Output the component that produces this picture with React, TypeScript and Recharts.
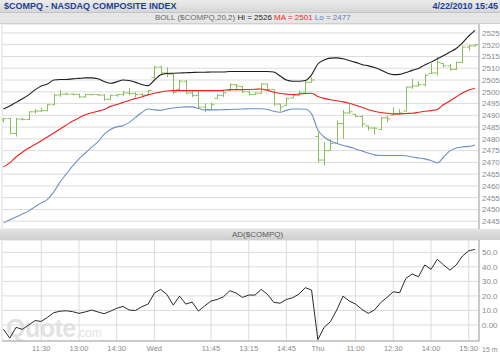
import { Bar, CartesianGrid, ComposedChart, Line, XAxis, YAxis } from 'recharts';

// 15 minute bars, Tue 10:00 -> Thu 15:45
const timeTicks = [6, 12, 18, 24, 33, 39, 45, 50, 56, 62, 68, 74];
const timeLabels = ['11:30', '13:00', '14:30', 'Wed', '11:45', '13:15', '14:45', 'Thu', '11:00', '12:30', '14:00', '15:30'];

const priceTicks = [2445, 2450, 2455, 2460, 2465, 2470, 2475, 2480, 2485, 2490, 2495, 2500, 2505, 2510, 2515, 2520, 2525];
const adTicks = [0, 10, 20, 30, 40, 50];

const opens = [
	2488.0, 2488.6, 2482.3, 2488.4, 2488.2, 2491.5, 2491.8, 2492.0, 2494.5, 2498.6,
	2499.0, 2499.0, 2498.9, 2497.8, 2498.8, 2498.8, 2498.6, 2496.8, 2498.5, 2498.8,
	2499.5, 2499.2, 2498.8, 2498.6, 2506.0, 2510.5, 2508.0, 2507.5, 2501.0, 2504.5,
	2499.5, 2498.5, 2493.5, 2492.5, 2497.2, 2498.5, 2500.6, 2503.0, 2502.2, 2500.0,
	2498.8, 2499.4, 2503.3, 2501.0, 2494.8, 2494.2, 2497.4, 2498.5, 2499.5, 2504.0,
	2481.0, 2471.0, 2475.0, 2478.0, 2486.5, 2491.0, 2490.5, 2489.5, 2485.5, 2484.6,
	2484.0, 2489.0, 2490.0, 2490.5, 2491.8, 2502.0, 2502.5, 2503.0, 2507.8, 2508.0,
	2512.0, 2511.0, 2509.5, 2512.5, 2519.0, 2519.5,
];
const highs = [
	2489.0, 2488.9, 2488.9, 2488.9, 2491.7, 2492.7, 2493.1, 2494.8, 2499.1, 2500.8,
	2499.5, 2499.3, 2499.1, 2499.1, 2499.0, 2499.0, 2499.0, 2498.8, 2499.1, 2500.5,
	2501.6, 2499.8, 2499.4, 2500.8, 2511.1, 2511.1, 2510.4, 2507.6, 2505.0, 2505.0,
	2500.5, 2500.5, 2495.1, 2495.5, 2499.1, 2500.5, 2503.6, 2503.3, 2502.5, 2500.5,
	2499.8, 2503.6, 2503.4, 2501.0, 2494.9, 2497.4, 2499.1, 2500.5, 2504.8, 2506.2,
	2482.8, 2478.6, 2480.0, 2487.8, 2492.3, 2494.8, 2490.6, 2490.0, 2485.6, 2484.9,
	2489.2, 2489.9, 2493.4, 2492.7, 2502.2, 2505.5, 2504.5, 2507.6, 2512.1, 2514.7,
	2512.1, 2511.8, 2512.8, 2519.6, 2520.0, 2520.3,
];
const lows = [
	2487.0, 2482.1, 2481.0, 2487.8, 2488.0, 2490.7, 2491.5, 2491.7, 2494.3, 2497.8,
	2498.5, 2498.6, 2497.3, 2497.6, 2498.5, 2498.3, 2496.2, 2496.7, 2497.8, 2498.3,
	2498.4, 2497.7, 2497.7, 2498.4, 2505.5, 2507.6, 2506.2, 2499.1, 2500.5, 2499.1,
	2497.7, 2492.7, 2491.3, 2492.4, 2497.0, 2497.7, 2500.5, 2501.2, 2499.5, 2498.4,
	2498.7, 2499.3, 2500.5, 2494.1, 2491.7, 2494.1, 2497.4, 2498.4, 2499.4, 2504.0,
	2470.1, 2468.7, 2475.0, 2478.0, 2480.0, 2490.6, 2489.2, 2484.9, 2483.5, 2481.8,
	2483.8, 2487.0, 2489.9, 2490.3, 2491.7, 2501.2, 2502.2, 2502.2, 2507.6, 2506.9,
	2510.4, 2509.0, 2509.3, 2512.1, 2517.5, 2519.2,
];
const closes = [
	2488.6, 2482.3, 2488.4, 2488.2, 2491.5, 2491.8, 2492.0, 2494.5, 2498.6, 2499.0,
	2499.0, 2498.9, 2497.8, 2498.8, 2498.8, 2498.6, 2496.8, 2498.5, 2498.8, 2499.5,
	2499.2, 2498.8, 2498.6, 2500.5, 2510.5, 2508.0, 2507.5, 2499.8, 2504.5, 2499.5,
	2498.5, 2493.5, 2492.5, 2494.5, 2498.5, 2499.5, 2503.0, 2502.5, 2500.0, 2498.8,
	2499.4, 2503.3, 2501.0, 2494.8, 2493.5, 2497.2, 2498.5, 2499.5, 2504.0, 2505.0,
	2471.0, 2475.0, 2478.0, 2486.5, 2491.0, 2491.5, 2489.5, 2486.3, 2484.6, 2484.5,
	2489.0, 2488.5, 2490.5, 2491.0, 2502.0, 2502.5, 2503.0, 2507.0, 2508.0, 2512.5,
	2511.0, 2509.5, 2512.5, 2519.0, 2519.5, 2520.0,
];

const upperBand = [
	2492.7, 2494.0, 2495.5, 2497.0, 2498.7, 2500.8, 2502.5, 2503.3, 2505.0, 2505.2,
	2505.2, 2505.5, 2505.7, 2505.9, 2505.9, 2505.5, 2504.4, 2503.6, 2504.2, 2505.0,
	2504.8, 2504.0, 2503.1, 2502.6, 2505.0, 2507.2, 2507.8, 2507.9, 2508.0, 2508.1,
	2508.2, 2508.3, 2508.3, 2508.4, 2508.4, 2508.4, 2508.6, 2508.6, 2508.6, 2508.6,
	2508.6, 2508.6, 2508.6, 2508.4, 2506.7, 2505.0, 2504.5, 2504.5, 2504.8, 2507.2,
	2511.8, 2513.5, 2514.3, 2514.4, 2514.0, 2513.3, 2512.5, 2511.6, 2511.0, 2510.3,
	2509.3, 2508.0, 2507.3, 2507.4, 2508.2, 2509.1, 2509.9, 2511.4, 2512.6, 2514.0,
	2515.4, 2516.9, 2518.4, 2520.8, 2523.7, 2526.1,
];
const movingAvg = [
	2468.1, 2469.8, 2472.3, 2474.3, 2476.1, 2477.6, 2479.2, 2480.8, 2482.5, 2484.2,
	2485.9, 2487.6, 2488.9, 2490.2, 2491.1, 2491.7, 2492.5, 2493.8, 2494.6, 2495.5,
	2496.3, 2497.2, 2497.8, 2498.7, 2499.4, 2499.9, 2500.3, 2500.5, 2500.5, 2500.5,
	2500.5, 2500.5, 2500.5, 2500.5, 2500.5, 2500.6, 2500.9, 2500.9, 2500.9, 2501.0,
	2501.1, 2501.2, 2500.6, 2499.8, 2499.3, 2499.0, 2498.8, 2499.0, 2499.3, 2499.4,
	2498.0, 2497.2, 2496.6, 2496.2, 2495.7, 2495.1, 2494.3, 2493.4, 2492.4, 2491.7,
	2491.2, 2490.9, 2490.6, 2490.6, 2490.8, 2490.9, 2491.3, 2491.7, 2492.0, 2492.5,
	2494.6, 2496.1, 2497.8, 2499.5, 2500.8, 2501.4,
];
const lowerBand = [
	2444.3, 2445.6, 2446.8, 2448.1, 2449.4, 2451.1, 2452.8, 2454.3, 2457.5, 2461.7,
	2465.1, 2468.5, 2471.5, 2474.0, 2476.4, 2478.7, 2481.9, 2484.0, 2485.1, 2485.6,
	2487.0, 2489.1, 2491.2, 2492.7, 2492.3, 2492.1, 2492.7, 2493.1, 2493.4, 2493.6,
	2493.6, 2492.9, 2492.3, 2492.3, 2492.3, 2492.4, 2492.5, 2492.6, 2492.7, 2492.8,
	2492.8, 2492.8, 2492.5, 2491.7, 2491.3, 2492.1, 2492.7, 2492.7, 2492.6, 2490.6,
	2483.8, 2480.8, 2479.1, 2478.1, 2477.2, 2476.6, 2475.7, 2474.9, 2474.0, 2473.2,
	2472.9, 2472.9, 2472.9, 2472.9, 2472.8, 2472.3, 2471.9, 2471.5, 2470.8, 2469.8,
	2472.3, 2474.9, 2476.1, 2476.6, 2476.8, 2477.4,
];

const adLine = [
	-3, -9, -1.6, -3, 0, 3, 2.5, 5.3, 8.5, 9.5,
	9.8, 9.2, 8, 9, 10.3, 9, 7.8, 9.5, 11.5, 12.8,
	10.3, 10, 12.6, 14.4, 22, 24.5, 21, 13.7, 19.9, 14.4,
	15.8, 9.6, 13.1, 16.5, 17.6, 19.5, 23.6, 22, 19, 20.6,
	20.6, 24.5, 21, 15.6, 15, 17.6, 18.8, 21.3, 25.7, 24,
	-10, -1.6, 2.3, 10.3, 19.9, 16.5, 14.4, 10.8, 8, 10.3,
	15.4, 19, 22.9, 22.2, 32.1, 35.1, 33.2, 41.3, 38.3, 45.2,
	41.3, 37.8, 41.3, 47.5, 51.1, 52,
];

const rows = closes.map((c, i) => ({
	i,
	o: opens[i],
	h: highs[i],
	l: lows[i],
	c,
	up: upperBand[i],
	ma: movingAvg[i],
	lo: lowerBand[i],
	ad: adLine[i],
}));

const FONT = '"Liberation Sans", Arial, sans-serif';
const GREEN = '#8cbf5c';
const xDomain = [-0.24, 75.63];

function OhlcShape(props: any) {
	const { x, y, width, height, payload } = props;
	const top = Math.min(y, y + height);
	const h = Math.abs(height);
	const span = payload.h - payload.l || 1;
	const toY = (v: number) => top + ((payload.h - v) / span) * h;
	const cx = Math.round(x + width / 2) + 0.5;
	return (
		<g stroke={GREEN} strokeWidth={1}>
			<line x1={cx} x2={cx} y1={top} y2={top + h} />
			<line x1={cx - 3} x2={cx} y1={toY(payload.o)} y2={toY(payload.o)} />
			<line x1={cx} x2={cx + 3} y1={toY(payload.c)} y2={toY(payload.c)} />
		</g>
	);
}

const axisTick = { fontSize: 8, fill: '#8a8a8a', fontFamily: FONT };

export default function App() {
	return (
		<div
			style={{
				position: 'absolute',
				left: 0,
				top: 0,
				width: 500,
				height: 356,
				overflow: 'hidden',
				background: '#fff',
				fontFamily: FONT,
			}}
		>
			{/* title bar */}
			<div
				style={{
					position: 'absolute',
					left: 0,
					top: 0,
					width: 500,
					height: 12,
					background: 'linear-gradient(#ececec, #d6d6d6)',
					borderBottom: '1px solid #c4c4c4',
				}}
			>
				<span style={{ position: 'absolute', left: 4, top: 0, fontSize: 9, lineHeight: '12px', fontWeight: 'bold', color: '#1c3f94', whiteSpace: 'nowrap' }}>
					$COMPQ - NASDAQ COMPOSITE INDEX
				</span>
				<span style={{ position: 'absolute', right: 2, top: 0, fontSize: 9, lineHeight: '12px', fontWeight: 'bold', color: '#1c3f94', whiteSpace: 'nowrap' }}>
					4/22/2010 15:45
				</span>
			</div>
			<div
				style={{
					position: 'absolute',
					left: 0,
					top: 13,
					width: 500,
					height: 10,
					background: '#e6e6e6',
					borderBottom: '1px solid #d0d0d0',
					fontSize: 8,
					lineHeight: '10px',
					whiteSpace: 'nowrap',
				}}
			>
				<span style={{ position: 'absolute', left: 155 }}>
					<span style={{ color: '#6a6a6a' }}>BOLL ($COMPQ,20,2) </span>
					<span style={{ color: '#222' }}>Hi = 2526 </span>
					<span style={{ color: '#ee1c1c' }}>MA = 2501 </span>
					<span style={{ color: '#5b7fc0' }}>Lo = 2477</span>
				</span>
			</div>

			{/* price panel */}
			<div style={{ position: 'absolute', left: 0, top: 24 }}>
				<ComposedChart width={500} height={205} data={rows} margin={{ top: 0, right: 0, bottom: 0, left: 2 }}>
					<CartesianGrid stroke='#dcdcdc' />
					<XAxis
						dataKey='i'
						type='number'
						domain={xDomain}
						allowDataOverflow
						ticks={timeTicks}
						height={0}
						tick={false}
						axisLine={false}
						tickLine={false}
					/>
					<YAxis
						orientation='right'
						width={21}
						type='number'
						domain={[2441.7, 2528.8]}
						allowDataOverflow
						ticks={priceTicks}
						tickSize={0}
						tickMargin={3}
						tick={{ ...axisTick, textAnchor: 'start' }}
						axisLine={{ stroke: '#a8a8a8' }}
						interval={0}
					/>
					<Bar
						dataKey={(d: any) => [d.l, d.h]}
						barSize={6}
						shape={OhlcShape}
						isAnimationActive={false}
					/>
					<Line type='monotone' dataKey='up' stroke='#1e1e1e' strokeWidth={1.1} dot={false} isAnimationActive={false} />
					<Line type='monotone' dataKey='ma' stroke='#f02020' strokeWidth={1.1} dot={false} isAnimationActive={false} />
					<Line type='monotone' dataKey='lo' stroke='#6d90c8' strokeWidth={1.1} dot={false} isAnimationActive={false} />
				</ComposedChart>
			</div>

			{/* indicator title bar */}
			<div
				style={{
					position: 'absolute',
					left: 0,
					top: 229,
					width: 500,
					height: 11,
					background: 'linear-gradient(#e4e4e4, #cfcfcf)',
					fontSize: 8,
					lineHeight: '11px',
					color: '#5a5a5a',
					whiteSpace: 'nowrap',
				}}
			>
				<span style={{ position: 'absolute', left: 232 }}>AD($COMPQ)</span>
			</div>

			{/* watermark */}
			<div
				style={{
					position: 'absolute',
					left: 6,
					top: 314,
					color: '#e3e3e3',
					whiteSpace: 'nowrap',
				}}
			>
				<span style={{ fontSize: 25, fontWeight: 'bold', letterSpacing: -0.5 }}>Quote</span>
				<span style={{ fontSize: 12 }}>.com</span>
			</div>

			{/* AD panel */}
			<div style={{ position: 'absolute', left: 0, top: 240 }}>
				<ComposedChart width={500} height={116} data={rows} margin={{ top: 0, right: 0, bottom: 0, left: 2 }}>
					<CartesianGrid stroke='#dcdcdc' />
					<XAxis
						dataKey='i'
						type='number'
						domain={xDomain}
						allowDataOverflow
						ticks={timeTicks}
						interval={0}
						height={15}
						tickSize={0}
						tickMargin={5}
						tickFormatter={(v: number) => timeLabels[timeTicks.indexOf(v)]}
						tick={{ ...axisTick, fontSize: 7.5 }}
						axisLine={{ stroke: '#a8a8a8' }}
					/>
					<YAxis
						orientation='right'
						width={21}
						type='number'
						domain={[-11, 58.5]}
						allowDataOverflow
						ticks={adTicks}
						interval={0}
						tickSize={0}
						tickMargin={3}
						tickFormatter={(v: number) => (v === 0 ? '0.00' : v.toFixed(1))}
						tick={{ ...axisTick, textAnchor: 'start' }}
						axisLine={{ stroke: '#a8a8a8' }}
					/>
					<Line type='linear' dataKey='ad' stroke='#2a2a2a' strokeWidth={1} dot={false} isAnimationActive={false} />
				</ComposedChart>
			</div>

			<span
				style={{
					position: 'absolute',
					left: 482,
					top: 345,
					fontSize: 7,
					lineHeight: '10px',
					color: '#8a8a8a',
					whiteSpace: 'nowrap',
				}}
			>
				15 m
			</span>
		</div>
	);
}
